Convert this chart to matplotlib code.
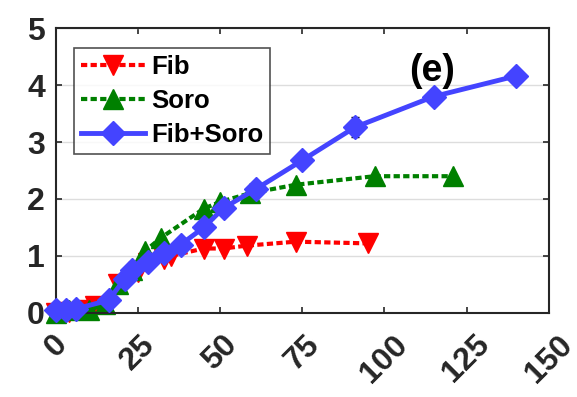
import numpy as np
import matplotlib.pyplot as plt

plt.rcParams['font.family'] = ['Liberation Sans', 'DejaVu Sans']
plt.rcParams['font.weight'] = 'bold'

# Fib
x_fib = [0, 4, 10, 12, 19, 25, 28, 33, 35, 45, 51, 58, 73, 95]
y_fib = [0.0, 0.02, 0.05, 0.12, 0.5, 0.72, 0.88, 0.95, 1.0, 1.13, 1.13, 1.18, 1.25, 1.22]
# Soro
x_soro = [0, 4, 10, 15, 19, 23, 27, 32, 45, 50, 59, 73, 97, 121]
y_soro = [0.0, 0.05, 0.05, 0.15, 0.5, 0.75, 1.08, 1.32, 1.83, 1.95, 2.1, 2.25, 2.4, 2.4]
# Fib+Soro
x_fs = [0, 3, 6, 16, 21, 23, 28, 33, 38, 45, 51, 61, 75, 91, 115, 140]
y_fs = [0.05, 0.05, 0.07, 0.22, 0.6, 0.75, 0.9, 1.05, 1.2, 1.5, 1.84, 2.18, 2.68, 3.26, 3.8, 4.16]
e_fs = [0, 0, 0, 0, 0, 0, 0, 0, 0, 0, 0, 0, 0, 0.18, 0, 0.12]

fig = plt.figure(figsize=(5.77, 3.97), dpi=100)
ax = fig.add_axes([0.097, 0.212, 0.854, 0.717])

ax.plot(x_fib, y_fib, color='#ff0000', linestyle=(0, (1.5, 0.8)), linewidth=3,
        marker='v', markersize=15, label='Fib', clip_on=False)
ax.plot(x_soro, y_soro, color='#008000', linestyle=(0, (1.5, 0.8)), linewidth=3,
        marker='^', markersize=15, label='Soro', clip_on=False)
ax.errorbar(x_fs, y_fs, yerr=e_fs, fmt='none', ecolor='k', elinewidth=1.5,
            capsize=3, clip_on=False, zorder=2.5)
ax.plot(x_fs, y_fs, color='#4444ff', linewidth=3.5, marker='D', markersize=12,
        label='Fib+Soro', clip_on=False, zorder=2.6)

ax.set_xlim(0, 150)
ax.set_ylim(0, 5)
ax.set_xticks([0, 25, 50, 75, 100, 125, 150])
ax.set_yticks([0, 1, 2, 3, 4, 5])
ax.tick_params(direction='in', top=True, right=True, labelsize=23, width=1.2,
               length=4, colors='#262626', pad=8)
ax.tick_params(axis='x', pad=12)
plt.setp(ax.get_xticklabels(), rotation=45, ha='center', va='top', fontweight='bold')
plt.setp(ax.get_yticklabels(), fontweight='bold')
for s in ax.spines.values():
    s.set_linewidth(1.5)
    s.set_color('#262626')
ax.yaxis.grid(True, color='#dddddd', linewidth=1)
ax.set_axisbelow(True)

leg = ax.legend(loc='upper left', bbox_to_anchor=(0.037, 0.93), fontsize=18.5,
                frameon=True, fancybox=False, edgecolor='#262626',
                handlelength=2.5, borderpad=0.25, labelspacing=0.4,
                handletextpad=0.25, borderaxespad=0)
leg.get_frame().set_linewidth(1.2)
for t in leg.get_texts():
    t.set_fontweight('bold')

ax.text(0.763, 0.85, '(e)', transform=ax.transAxes, fontsize=27,
        fontweight='bold', ha='center', va='center')

plt.savefig('out.png', dpi=100)
